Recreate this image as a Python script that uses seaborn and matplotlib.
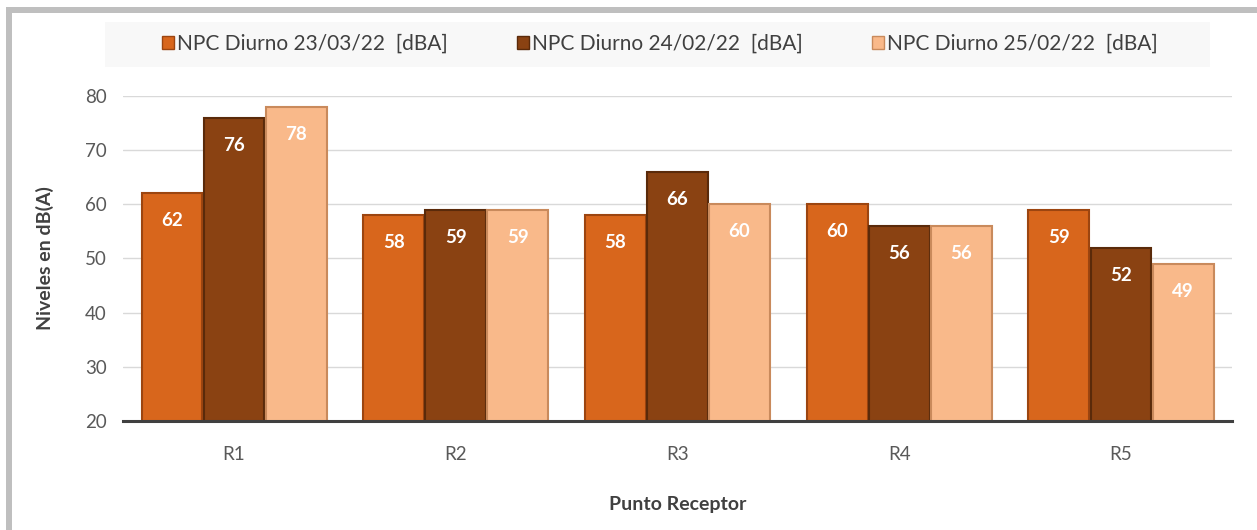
import pandas as pd
import seaborn as sns
import matplotlib
import matplotlib.pyplot as plt
from matplotlib.patches import Rectangle

matplotlib.use('Agg')

# data
puntos = ['R1', 'R2', 'R3', 'R4', 'R5']
series = ['NPC Diurno 23/03/22  [dBA]', 'NPC Diurno 24/02/22  [dBA]', 'NPC Diurno 25/02/22  [dBA]']
npc_23_03 = [62, 58, 58, 60, 59]
npc_24_02 = [76, 59, 66, 56, 52]
npc_25_02 = [78, 59, 60, 56, 49]
colores = ['#D8661C', '#8A4212', '#F9B98A']
bordes = ['#9C4510', '#5A2A0A', '#C98A5C']

#build long table for seaborn
df = pd.DataFrame({
    'punto': puntos * 3,
    'serie': [series[0]] * 5 + [series[1]] * 5 + [series[2]] * 5,
    'valor': npc_23_03 + npc_24_02 + npc_25_02,
})

sns.set_theme(style='white')
plt.rcParams['font.family'] = ['Lato', 'DejaVu Sans']

fig = plt.figure(figsize=(12.57, 5.30), dpi=100)
ax = fig.add_axes([0.098, 0.2057, 0.882, 0.6135])

sns.barplot(data=df, x='punto', y='valor', hue='serie', palette=colores,
            width=0.84, gap=0.02, ax=ax, legend=False, saturation=1)

ax.set_ylim(20, 80)
ax.set_yticks(range(20, 81, 10))
ax.yaxis.grid(True, color='#D9D9D9', linewidth=1)
ax.set_axisbelow(True)
for s in ['top', 'right', 'left']:
    ax.spines[s].set_visible(False)
ax.spines['bottom'].set_color('#404040')
ax.spines['bottom'].set_linewidth(2.2)
ax.tick_params(axis='both', length=0, labelsize=13.5, colors='#595959', pad=12)
ax.tick_params(axis='x', pad=18)

# bar edges and labels
for i, cont in enumerate(ax.containers):
    for bar in cont:
        bar.set_edgecolor(bordes[i])
        bar.set_linewidth(1.5)
    ax.bar_label(cont, labels=[str(int(v)) for v in cont.datavalues], padding=-26,
                 color='white', fontsize=13.5, fontweight='bold')

ax.set_xlabel('Punto Receptor', fontsize=14, fontweight='bold', color='#404040', labelpad=24)
ax.set_ylabel('Niveles en dB(A)', fontsize=14, fontweight='bold', color='#404040', labelpad=22)

# legend
handles = [Rectangle((0, 0), 1, 1, facecolor=c, edgecolor=b) for c, b in zip(colores, bordes)]
fig.patches.append(Rectangle((105 / 1257, 1 - 67 / 530), 1105 / 1257, 45 / 530,
                             transform=fig.transFigure, facecolor='#F8F8F8', edgecolor='none', zorder=0))
leg = fig.legend(handles, series, loc='center', bbox_to_anchor=(0.525, 0.917), ncol=3,
                 frameon=False, fontsize=15, handlelength=0.6, handleheight=0.6,
                 handletextpad=0.15, columnspacing=3.3)
for t in leg.get_texts():
    t.set_color('#404040')

# gray frame on left and top
fig.patches.append(Rectangle((6 / 1257, 0), 6 / 1257, 1 - 7 / 530, transform=fig.transFigure,
                             facecolor='#BFBFBF', edgecolor='none'))
fig.patches.append(Rectangle((6 / 1257, 1 - 13 / 530), 1, 6 / 530, transform=fig.transFigure,
                             facecolor='#BFBFBF', edgecolor='none'))

fig.savefig('out.png', dpi=100)
